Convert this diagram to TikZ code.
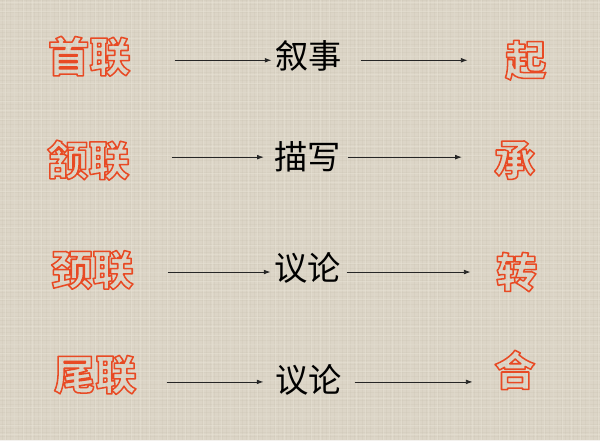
\documentclass[tikz,border=0pt]{standalone}
\usepackage{fontspec}
\usepackage{xcolor}
\usetikzlibrary{arrows.meta}

\newfontfamily\cjk{Noto Sans CJK SC}
\newfontfamily\cjkheavy{Noto Sans CJK SC Black}
\definecolor{linen}{RGB}{220,213,199}
\definecolor{linenlight}{RGB}{233,228,216}
\definecolor{linendark}{RGB}{200,192,176}
% outlined red characters: stroke only, no fill
\newcommand\redchars[1]{\special{pdf:literal direct 1 Tr 1.15 w 1 j 0.91 0.29 0.14 RG}#1\special{pdf:literal direct 0 Tr}}

\begin{document}
\begin{tikzpicture}[x=0.75pt,y=0.75pt,yscale=-1,xscale=1,
  lian/.style={font=\cjkheavy\fontsize{31}{31}\selectfont, inner sep=0pt},
  mid/.style={font=\cjk\fontsize{25}{25}\selectfont, text=black, inner sep=0pt},
  arr/.style={-{Latex[length=5pt,width=3.6pt]}, line width=0.6pt, draw=black!85},
  weave/.style={draw=linendark, line width=0.4pt, opacity=0.22},
  weavelight/.style={draw=linenlight, line width=0.5pt, opacity=0.4}]

%Background
\path[fill=linen] (0,0) rectangle (600,440);
\foreach \y in {0,4,...,440} \draw[weave] (0,\y) -- (600,\y);
\foreach \x in {2,6,...,600} \draw[weave] (\x,0) -- (\x,440);
\foreach \y in {2,11,...,440} \draw[weavelight] (0,\y) -- (600,\y);
\foreach \x in {5,14,...,600} \draw[weavelight] (\x,0) -- (\x,440);

%Row baselines for the arrows
\coordinate (r1) at (0,60);
\coordinate (r2) at (0,157);
\coordinate (r3) at (0,272);
\coordinate (r4) at (0,382);

% 首联
\node[lian] (shou) at (89,56) {\redchars{首联}};
\node[mid] (xushi) at (309,56) {叙事};
\node[lian] (qi) at (526,60) {\redchars{起}};
\draw[arr, shorten >=3pt] (shou.east |- r1) ++(44,0) -- (xushi.west |- r1);
\draw[arr, shorten >=28pt] (xushi.east |- r1) ++(18,0) -- (qi.west |- r1);

% 颔联
\node[lian] (han) at (88,160) {\redchars{颔联}};
\node[mid] (miaoxie) at (308,157) {描写};
\node[lian] (cheng) at (515,160) {\redchars{承}};
\draw[arr, shorten >=8pt] (han.east |- r2) ++(42,0) -- (miaoxie.west |- r2);
\draw[arr, shorten >=24pt] (miaoxie.east |- r2) ++(6,0) -- (cheng.west |- r2);

% 颈联
\node[lian] (jing) at (92,270) {\redchars{颈联}};
\node[mid] (yilun) at (308,268) {议论};
\node[lian] (zhuan) at (517,272) {\redchars{转}};
\draw[arr, shorten >=3pt] (jing.east |- r3) ++(34,0) -- (yilun.west |- r3);
\draw[arr, shorten >=19pt] (yilun.east |- r3) ++(5,0) -- (zhuan.west |- r3);

% 尾联
\node[lian] (wei) at (95,375) {\redchars{尾联}};
\node[mid] (yilunb) at (309,380) {议论};
\node[lian] (he) at (515,370) {\redchars{合}};
\draw[arr, shorten >=9pt] (wei.east |- r4) ++(30,0) -- (yilunb.west |- r4);
\draw[arr, shorten >=16pt] (yilunb.east |- r4) ++(12,0) -- (he.west |- r4);

\end{tikzpicture}
\end{document}
